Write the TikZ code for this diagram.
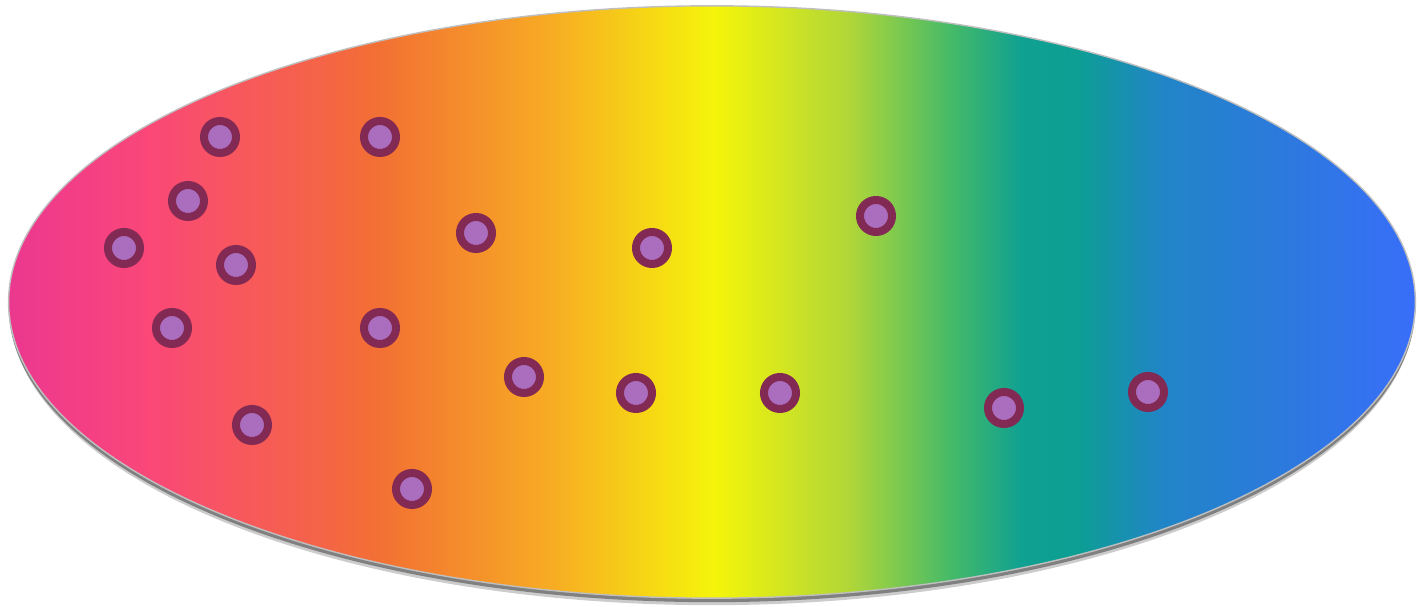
\documentclass[tikz,border=0pt]{standalone}
\usepackage{tikz}
\usetikzlibrary{positioning}
\usepackage{xcolor}
\definecolor{ring}{rgb}{0.51,0.16,0.33}
\definecolor{core}{rgb}{0.67,0.43,0.75}

% rainbow, the path covers 25bp to 75bp
\pgfdeclarehorizontalshading{rainbow}{100bp}{
	rgb(0bp)=(0.92,0.22,0.56);
	rgb(25bp)=(0.92,0.22,0.56);
	rgb(27bp)=(0.95,0.24,0.53);
	rgb(30bp)=(0.98,0.28,0.47);
	rgb(33bp)=(0.97,0.34,0.37);
	rgb(36bp)=(0.96,0.39,0.28);
	rgb(38.2bp)=(0.95,0.44,0.20);
	rgb(44.2bp)=(0.97,0.67,0.14);
	rgb(50.1bp)=(0.96,0.96,0.04);
	rgb(54.9bp)=(0.69,0.84,0.22);
	rgb(58.5bp)=(0.27,0.73,0.41);
	rgb(61bp)=(0.06,0.63,0.57);
	rgb(63bp)=(0.05,0.62,0.58);
	rgb(66bp)=(0.13,0.52,0.78);
	rgb(70bp)=(0.17,0.48,0.86);
	rgb(75bp)=(0.22,0.43,0.98);
	rgb(100bp)=(0.22,0.43,0.98)}

\begin{document}
\begin{tikzpicture}[
		x=0.01cm, y=-0.01cm,
		dot/.style = {circle,	draw=ring,	fill=core,	line width=0.08cm, minimum size=0.32cm, inner sep=0pt},
		blob/.style = {shading=rainbow, shading angle=0}
		]
		\useasboundingbox (0, 0) rectangle (1417, 607);
		
		%Shadow and body
		\fill[black!20]	(712, 309) ellipse [x radius=7.02cm, y radius=2.96cm];
		\fill[black!50]	(712, 306) ellipse [x radius=7.03cm, y radius=2.96cm];
		\path[blob]	(712, 302) ellipse [x radius=7.03cm, y radius=2.96cm];
		\draw[black!25, line width=0.4pt]	(712, 302) ellipse [x radius=7.03cm, y radius=2.96cm];
		
		%Nodes
		\node[dot]	(d1)	at	(220, 137)	{};
		\node[dot]	(d2)	at	(380, 137)	{};
		\node[dot]	(d3)	at	(188, 201)	{};
		\node[dot]	(d4)	at	(124, 248)	{};
		\node[dot]	(d5)	at	(236, 265)	{};
		\node[dot]	(d6)	at	(476, 233)	{};
		\node[dot]	(d7)	at	(652, 248)	{};
		\node[dot]	(d8)	at	(876, 216)	{};
		\node[dot]	(d9)	at	(172, 328)	{};
		\node[dot]	(d10)	at	(380, 328)	{};
		\node[dot]	(d11)	at	(524, 377)	{};
		\node[dot]	(d12)	at	(636, 393)	{};
		\node[dot]	(d13)	at	(780, 393)	{};
		\node[dot]	(d14)	at	(1004, 408)	{};
		\node[dot]	(d15)	at	(1148, 392)	{};
		\node[dot]	(d16)	at	(252, 425)	{};
		\node[dot]	(d17)	at	(412, 489)	{};
	\end{tikzpicture}
\end{document}
